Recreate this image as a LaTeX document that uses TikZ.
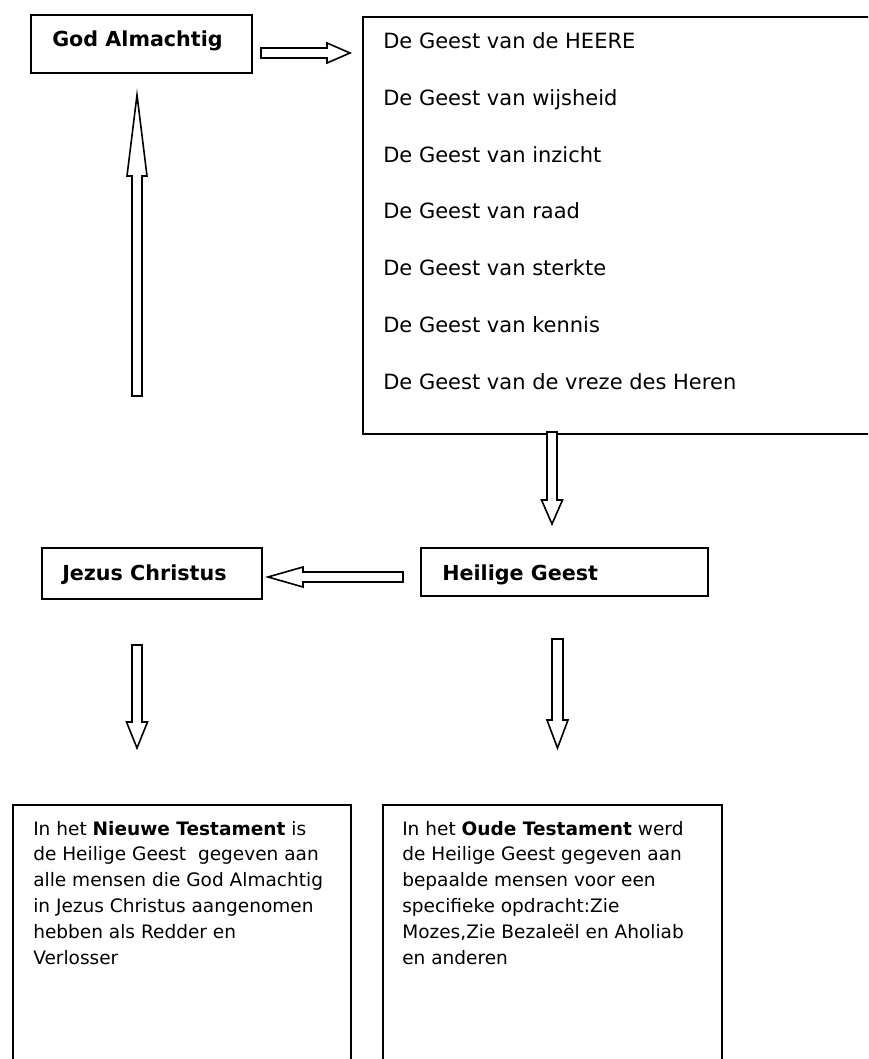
\documentclass[tikz,border=0pt]{standalone}
\usepackage{fontspec}
\setmainfont{DejaVu Sans}
\newcommand\pxu{0.75pt}
\newcommand\blockarrow[8]{% name, x, y, angle, L, h, s, w
  \coordinate (#1) at (#2,#3);
  \draw[barrow, shift={(#1)}, rotate=#4]
    (0,-#7) -- (#5-#6,-#7) -- (#5-#6,-#8) -- (#5,0) -- (#5-#6,#8) -- (#5-#6,#7) -- (0,#7) -- cycle;}
\begin{document}
\begin{tikzpicture}[x=0.75pt,y=-0.75pt,
  box/.style={draw, line width=1.45pt, rectangle, inner sep=0pt, anchor=north west},
  barrow/.style={draw, line width=1.2pt, line join=miter, fill=white},
  lbl/.style={inner sep=0pt, anchor=base west, font=\bfseries\fontsize{15.5}{18}\selectfont},
  lst/.style={inner sep=0pt, anchor=base west, font=\fontsize{15.75}{19}\selectfont},
  para/.style={inner sep=0pt, anchor=base west, font=\fontsize{13.9}{19.4}\selectfont}]
\useasboundingbox (0,0) rectangle (868,1059);
\clip (0,0) rectangle (868,1059);
% boxes
\node[box, minimum width=221*\pxu, minimum height=58*\pxu] (god) at (30,14) {};
\node[box, minimum width=520*\pxu, minimum height=417*\pxu] (list) at (362,16) {};
\node[box, minimum width=287*\pxu, minimum height=48*\pxu] (hg) at (420,547) {};
\node[box, minimum width=220*\pxu, minimum height=51*\pxu] (jc) at (41,547) {};
\node[box, minimum width=338*\pxu, minimum height=270*\pxu] (nt) at (12,804) {};
\node[box, minimum width=339*\pxu, minimum height=270*\pxu] (ot) at (382,804) {};
% labels
\node[lbl] (godt) at (52,47) {God Almachtig};
\node[lbl] (jct) at (62,580) {Jezus Christus};
\node[lbl] (hgt) at (442,580) {Heilige Geest};
% list
\node[lst] (l1) at (383,49) {De Geest van de HEERE};
\node[lst] (l2) at (383,105.7) {De Geest van wijsheid};
\node[lst] (l3) at (383,162.3) {De Geest van inzicht};
\node[lst] (l4) at (383,219) {De Geest van raad};
\node[lst] (l5) at (383,275.7) {De Geest van sterkte};
\node[lst] (l6) at (383,332.3) {De Geest van kennis};
\node[lst] (l7) at (383,389) {De Geest van de vreze des Heren};
% NT text
\node[para] (nt1) at (33,835) {In het \textbf{Nieuwe Testament} is};
\node[para] (nt2) at (33,860.9) {de Heilige Geest\ \ gegeven aan};
\node[para] (nt3) at (33,886.8) {alle mensen die God Almachtig};
\node[para] (nt4) at (33,912.7) {in Jezus Christus aangenomen};
\node[para] (nt5) at (33,938.6) {hebben als Redder en};
\node[para] (nt6) at (33,964.5) {Verlosser};
% OT text
\node[para] (ot1) at (402,835) {In het \textbf{Oude Testament} werd};
\node[para] (ot2) at (402,860.9) {de Heilige Geest gegeven aan};
\node[para] (ot3) at (402,886.8) {bepaalde mensen voor een};
\node[para] (ot4) at (402,912.7) {specifieke opdracht:Zie};
\node[para] (ot5) at (402,938.6) {Mozes,Zie Bezaleël en Aholiab};
\node[para] (ot6) at (402,964.5) {en anderen};
% block arrows
\blockarrow{a1}{261}{53}{0}{89}{23}{5}{10}
\blockarrow{a2}{137}{396}{90}{301}{81}{5}{10}
\blockarrow{a3}{552}{432}{-90}{92}{24}{5}{10.5}
\blockarrow{a4}{403}{577}{180}{135}{35}{5}{10}
\blockarrow{a5}{137}{645}{-90}{103}{26}{5}{10.5}
\blockarrow{a6}{557.5}{639}{-90}{109}{28}{5.5}{10.5}
\end{tikzpicture}
\end{document}
